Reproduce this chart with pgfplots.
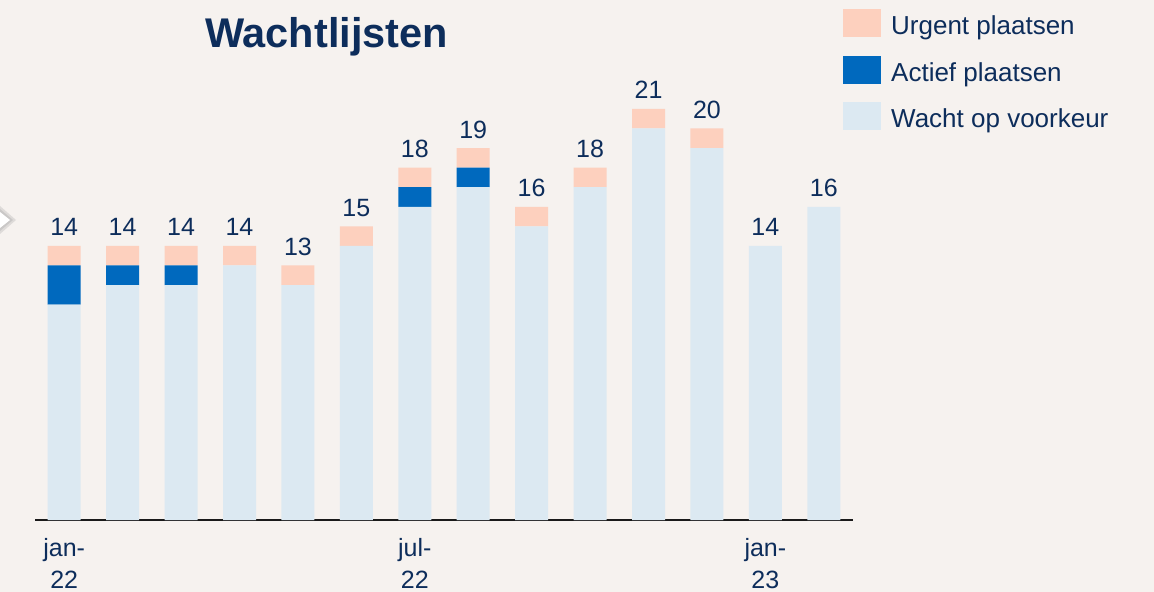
\documentclass[border=0pt]{standalone}
\usepackage{pgfplots}
\pgfplotsset{compat=1.18}
\usepackage{fontspec}
\setmainfont{Liberation Sans}
\definecolor{bgc}{HTML}{F6F2EF}
\definecolor{navy}{HTML}{0D2D5B}
\definecolor{peach}{HTML}{FDD0BE}
\definecolor{actblue}{HTML}{0069BE}
\definecolor{lightb}{HTML}{DCE9F2}
\definecolor{axisc}{HTML}{1A1A1A}
\pgfplotsset{
  base/.style={
    at={(35bp,72bp)}, anchor=south west, scale only axis,
    width=818bp, height=509bp,
    xmin=-0.5, xmax=13.5, ymin=0, ymax=26,
    clip=false,
  }
}
\begin{document}
\begin{tikzpicture}
\fill[bgc] (0bp,0bp) rectangle (1154bp,592bp);
% small arrow marker at left edge
\fill[black!30,opacity=0.35] (0bp,386bp) -- (16bp,372bp) -- (0bp,358bp) -- cycle;
\fill[black!30,opacity=0.45] (0bp,383bp) -- (13bp,372bp) -- (0bp,361bp) -- cycle;
\fill[white] (0bp,380bp) -- (10bp,372bp) -- (0bp,364bp) -- cycle;
\node[font=\fontsize{41.5bp}{48bp}\selectfont\bfseries, text=navy, anchor=base] at (326.5bp,544bp) {Wachtlijsten};
\begin{axis}[
  base,
  axis y line=none, axis x line=bottom,
  axis line style={-, line width=2bp, color=axisc},
  ybar stacked, bar width=33bp,
  xtick={0,6,12},
  xticklabels={{jan-\\22},{jul-\\22},{jan-\\23}},
  major tick length=0pt,
  xticklabel style={align=center, font=\fontsize{25bp}{32bp}\selectfont, text=navy, inner sep=0pt, anchor=north, yshift=-18bp},
  reverse legend,
  legend image code/.code={\fill[#1] (0bp,-14bp) rectangle (38bp,14bp);},
  legend style={at={(0.9841,1.0079)}, anchor=north west, draw=none, fill=none,
    font=\fontsize{26bp}{30bp}\selectfont, text=navy,
    nodes={inner sep=0pt, text height=23bp, text depth=0bp},
    row sep=18.5bp,
    /tikz/every odd column/.append style={column sep=10bp}},
  legend cell align=left,
]
\addplot+[fill=lightb, draw=none] coordinates {
(0,11) (1,12) (2,12) (3,13) (4,12) (5,14) (6,16) (7,17) (8,15) (9,17) (10,20) (11,19) (12,14) (13,16)};
\addlegendentry{Wacht op voorkeur}
\addplot+[fill=actblue, draw=none] coordinates {
(0,2) (1,1) (2,1) (3,0) (4,0) (5,0) (6,1) (7,1) (8,0) (9,0) (10,0) (11,0) (12,0) (13,0)};
\addlegendentry{Actief plaatsen}
\addplot+[fill=peach, draw=none] coordinates {
(0,1) (1,1) (2,1) (3,1) (4,1) (5,1) (6,1) (7,1) (8,1) (9,1) (10,1) (11,1) (12,0) (13,0)};
\addlegendentry{Urgent plaatsen}
\end{axis}
\begin{axis}[base, hide axis, /pgf/number format/assume math mode=true]
\addplot[only marks, mark=none, nodes near coords, point meta=y,
  every node near coord/.append style={font=\fontsize{25bp}{30bp}\selectfont, text=navy, inner sep=0pt, anchor=base, yshift=10bp, /pgf/number format/assume math mode=true}] coordinates {
(0,14) (1,14) (2,14) (3,14) (4,13) (5,15) (6,18) (7,19) (8,16) (9,18) (10,21) (11,20) (12,14) (13,16)};
\end{axis}
\pgfresetboundingbox
\useasboundingbox (0bp,0bp) rectangle (1154bp,592bp);
\end{tikzpicture}
\end{document}
